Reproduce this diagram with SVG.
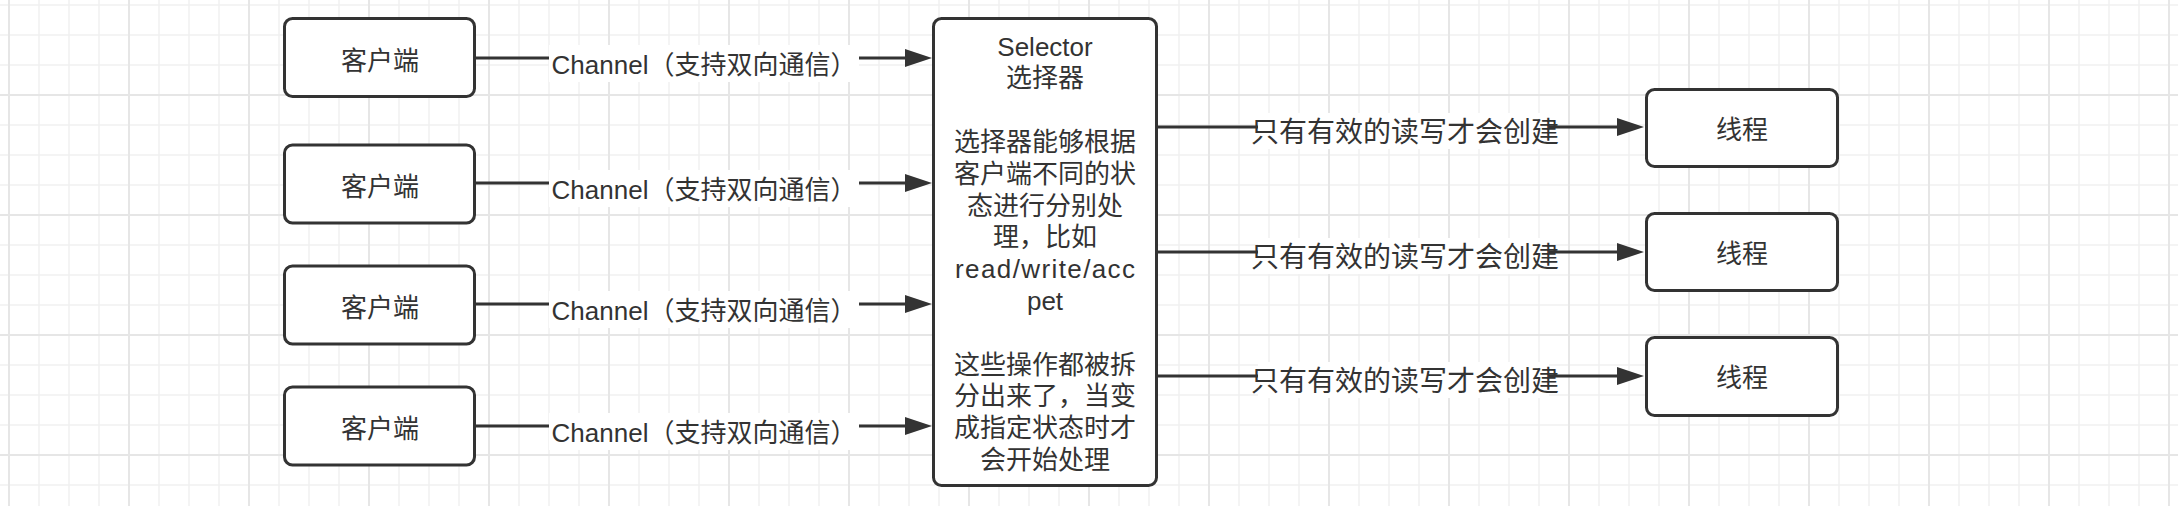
<svg xmlns="http://www.w3.org/2000/svg" width="2178" height="506" viewBox="0 0 2178 506">
  <defs>
    <pattern id="gridMinor" patternUnits="userSpaceOnUse" x="-6" y="-10" width="30" height="30">
      <path d="M15 0 V30 M0 15 H30" stroke="#f1f1f1" stroke-width="1.5" fill="none"/>
    </pattern>
    <pattern id="gridMajor" patternUnits="userSpaceOnUse" x="-51" y="35" width="120" height="120">
      <path d="M60 0 V120 M0 60 H120" stroke="#e6e6e6" stroke-width="2" fill="none"/>
    </pattern>
    <marker id="arrow" markerUnits="userSpaceOnUse" markerWidth="27" markerHeight="18" refX="21" refY="9" orient="auto">
      <path d="M0,0 L27,9 L0,18 Z" fill="#333333"/>
    </marker>
  </defs>
  <style>
    .box { fill: #ffffff; stroke: #333333; stroke-width: 3; }
    .edge { fill: none; stroke: #333333; stroke-width: 3; marker-end: url(#arrow); }
    .lblbg { fill: #ffffff; }
    .t { font-family: "Liberation Sans", "Noto Sans CJK SC", sans-serif; font-size: 26px; fill: #333333; text-anchor: middle; }
    .t28 { font-size: 28px; }
  </style>

  <rect x="0" y="0" width="2178" height="506" fill="#ffffff"/>
  <rect x="0" y="0" width="2178" height="506" fill="url(#gridMinor)"/>
  <rect x="0" y="0" width="2178" height="506" fill="url(#gridMajor)"/>

  <g id="connectors">
    <path class="edge" d="M476 58 H926"/>
    <path class="edge" d="M476 183 H926"/>
    <path class="edge" d="M476 304 H926"/>
    <path class="edge" d="M476 426 H926"/>
    <path class="edge" d="M1157 127 H1638"/>
    <path class="edge" d="M1157 252 H1638"/>
    <path class="edge" d="M1157 376 H1638"/>

    <rect class="lblbg" x="549" y="45" width="310" height="37"/>
    <rect class="lblbg" x="549" y="170" width="310" height="37"/>
    <rect class="lblbg" x="549" y="291" width="310" height="37"/>
    <rect class="lblbg" x="549" y="413" width="310" height="37"/>
    <text class="t" x="704" y="73.5">Channel（支持双向通信）</text>
    <text class="t" x="704" y="198.5">Channel（支持双向通信）</text>
    <text class="t" x="704" y="319.5">Channel（支持双向通信）</text>
    <text class="t" x="704" y="441.5">Channel（支持双向通信）</text>

    <rect class="lblbg" x="1258" y="113" width="291" height="36"/>
    <rect class="lblbg" x="1258" y="238" width="291" height="36"/>
    <rect class="lblbg" x="1258" y="362" width="291" height="36"/>
    <text class="t t28" x="1405" y="142">只有有效的读写才会创建</text>
    <text class="t t28" x="1405" y="267">只有有效的读写才会创建</text>
    <text class="t t28" x="1405" y="391">只有有效的读写才会创建</text>
  </g>

  <g id="client1">
    <rect class="box" x="284.5" y="18.5" width="190" height="78" rx="8" ry="8"/>
    <text class="t" x="380" y="69.5">客户端</text>
  </g>
  <g id="client2">
    <rect class="box" x="284.5" y="145" width="190" height="78" rx="8" ry="8"/>
    <text class="t" x="380" y="196">客户端</text>
  </g>
  <g id="client3">
    <rect class="box" x="284.5" y="266" width="190" height="78" rx="8" ry="8"/>
    <text class="t" x="380" y="317">客户端</text>
  </g>
  <g id="client4">
    <rect class="box" x="284.5" y="387" width="190" height="78" rx="8" ry="8"/>
    <text class="t" x="380" y="438">客户端</text>
  </g>

  <g id="selector">
    <rect class="box" x="933.5" y="18.5" width="223" height="467" rx="8" ry="8"/>
    <text class="t" x="1045" y="55.5">Selector</text>
    <text class="t" x="1045" y="87.3">选择器</text>
    <text class="t" x="1045" y="150.9">选择器能够根据</text>
    <text class="t" x="1045" y="182.7">客户端不同的状</text>
    <text class="t" x="1045" y="214.5">态进行分别处</text>
    <text class="t" x="1045" y="246.3">理，比如</text>
    <text class="t" x="1045" y="278.1" textLength="180" lengthAdjust="spacing">read/write/acc</text>
    <text class="t" x="1045" y="309.9">pet</text>
    <text class="t" x="1045" y="373.5">这些操作都被拆</text>
    <text class="t" x="1045" y="405.3">分出来了，当变</text>
    <text class="t" x="1045" y="437.1">成指定状态时才</text>
    <text class="t" x="1045" y="468.9">会开始处理</text>
  </g>

  <g id="thread1">
    <rect class="box" x="1646.5" y="89.5" width="191" height="77" rx="8" ry="8"/>
    <text class="t" x="1742" y="138.5">线程</text>
  </g>
  <g id="thread2">
    <rect class="box" x="1646.5" y="213.5" width="191" height="77" rx="8" ry="8"/>
    <text class="t" x="1742" y="262.5">线程</text>
  </g>
  <g id="thread3">
    <rect class="box" x="1646.5" y="337.5" width="191" height="78" rx="8" ry="8"/>
    <text class="t" x="1742" y="387">线程</text>
  </g>
</svg>
